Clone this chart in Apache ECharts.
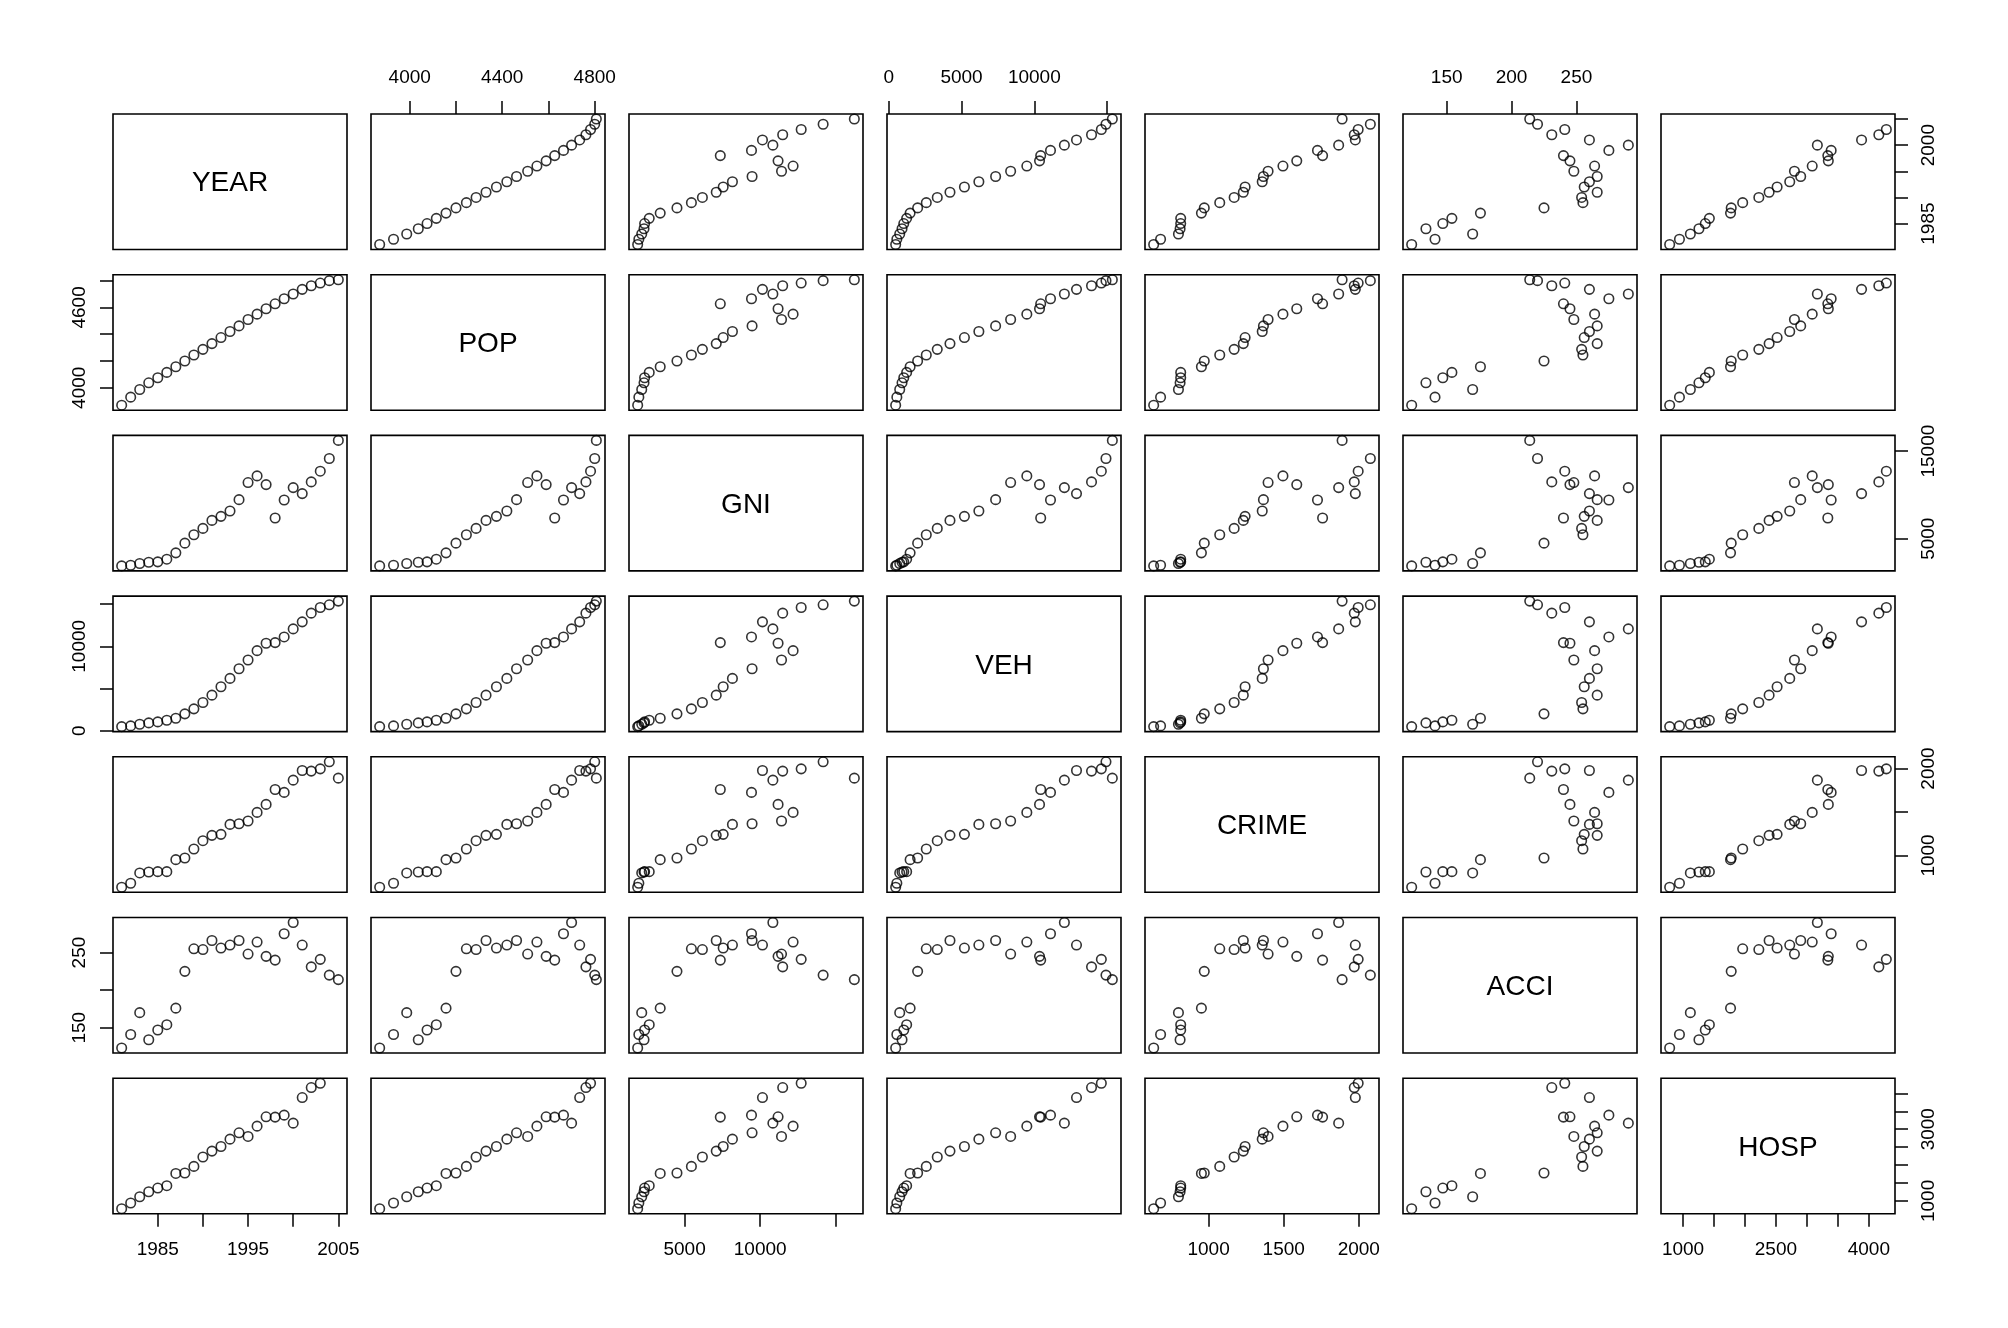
<!DOCTYPE html>
<html>
<head>
<meta charset="utf-8">
<title>pairs</title>
<script src="https://cdn.jsdelivr.net/npm/echarts@6.0.0/dist/echarts.min.js"></script>
<style>
html,body{margin:0;padding:0;background:#fff}
#chart{width:2008px;height:1328px}
</style>
</head>
<body>
<div id="chart"></div>
<script>
// variables of the pairs plot, one array per column
const varNames = ['YEAR', 'POP', 'GNI', 'VEH', 'CRIME', 'ACCI', 'HOSP']
const year = [1981, 1982, 1983, 1984, 1985, 1986, 1987, 1988, 1989, 1990, 1991, 1992, 1993,
  1994, 1995, 1996, 1997, 1998, 1999, 2000, 2001, 2002, 2003, 2004, 2005]
const pop = [3870, 3930, 3987, 4037, 4075, 4115, 4157, 4200, 4245, 4287, 4330, 4375, 4420,
  4462, 4510, 4550, 4590, 4627, 4665, 4700, 4735, 4762, 4782, 4800, 4807]
const gni = [1898, 1975, 2166, 2318, 2357, 2662, 3388, 4496, 5451, 6177, 7093, 7552, 8163,
  9462, 11410, 12174, 11181, 7361, 9424, 10837, 10149, 11486, 12709, 14160, 16223]
const veh = [476, 556, 754, 913, 1032, 1230, 1468, 1984, 2579, 3333, 4206, 5198, 6190,
  7341, 8372, 9484, 10357, 10436, 11110, 12063, 12896, 13928, 14602, 14920, 15357]
const crime = [634, 680, 799, 810, 814, 814, 952, 971, 1074, 1170, 1231, 1243, 1357,
  1365, 1396, 1495, 1587, 1759, 1725, 1866, 1977, 1970, 1996, 2077, 1889]
const acci = [123, 141, 170, 134, 147, 154, 176, 225, 255, 254, 266, 256, 260,
  266, 248, 264, 245, 240, 275, 290, 260, 231, 241, 220, 214]
const hosp = [784, 942, 1118, 1257, 1359, 1425, 1767, 1778, 1963, 2224, 2390, 2519, 2723,
  2900, 2799, 3086, 3346, 3338, 3392, 3169, 3883, 4162, 4283, null, null]
const cols = [year, pop, gni, veh, crime, acci, hosp]

// tick marks of each variable
const tickVals = {
  YEAR: [1985, 1990, 1995, 2000, 2005],
  POP: [4000, 4200, 4400, 4600, 4800],
  GNI: [5000, 10000, 15000],
  VEH: [0, 5000, 10000, 15000],
  CRIME: [1000, 1500, 2000],
  ACCI: [150, 200, 250],
  HOSP: [1000, 1500, 2000, 2500, 3000, 3500, 4000]
}
// which ticks get a label, per side
const topLabels = { POP: [4000, 4400, 4800], VEH: [0, 5000, 10000], ACCI: [150, 200, 250] }
const bottomLabels = { YEAR: [1985, 1995, 2005], GNI: [5000, 10000], CRIME: [1000, 1500, 2000], HOSP: [1000, 2500, 4000] }
const leftLabels = { POP: [4000, 4600], VEH: [0, 10000], ACCI: [150, 250] }
const rightLabels = { YEAR: [1985, 2000], GNI: [5000, 10000, 15000], CRIME: [1000, 2000], HOSP: [1000, 3000] }

const FONT = "'Liberation Sans', Arial, Helvetica, sans-serif"
const left0 = 113, top0 = 114, panelW = 234, panelH = 135.5, stepX = 258, stepY = 160.7
const n = varNames.length

// R style range: data range stretched 4% each side
function axisRange(arr) {
  let v = arr.filter(d => d != null)
  let lo = Math.min(...v), hi = Math.max(...v)
  let pad = (hi - lo) * 0.04
  return [lo - pad, hi + pad]
}
const ranges = cols.map(axisRange)

function axisCfg(k, p, position, labels, isY) {
  let name = varNames[k]
  let show = !!labels
  return {
    gridIndex: p,
    type: 'value',
    min: ranges[k][0],
    max: ranges[k][1],
    position: position,
    axisLine: { show: false },
    splitLine: { show: false },
    axisTick: {
      show: show,
      customValues: tickVals[name],
      length: 13,
      lineStyle: { color: '#000', width: 1.5 }
    },
    axisLabel: {
      show: show,
      customValues: labels || [],
      formatter: v => String(v),
      hideOverlap: false,
      showMinLabel: true,
      showMaxLabel: true,
      margin: isY ? 24 : 27,
      rotate: isY ? 90 : 0,
      color: '#000',
      fontSize: 19,
      fontFamily: FONT
    }
  }
}

let grids = [], xAxes = [], yAxes = [], series = [], graphics = []
for (let i = 0; i < n; i++) {
  for (let j = 0; j < n; j++) {
    let p = i * n + j
    let gl = left0 + stepX * j, gt = top0 + stepY * i
    grids.push({
      left: gl, top: gt, width: panelW, height: panelH,
      show: true, borderColor: '#000', borderWidth: 1.6, backgroundColor: 'transparent'
    })
    let xn = varNames[j], yn = varNames[i]
    let xPos = 'bottom', xLab = null
    if (i === 0 && j % 2 === 1) { xPos = 'top'; xLab = topLabels[xn] }
    if (i === n - 1 && j % 2 === 0) { xPos = 'bottom'; xLab = bottomLabels[xn] }
    let yPos = 'left', yLab = null
    if (j === 0 && i % 2 === 1) { yPos = 'left'; yLab = leftLabels[yn] }
    if (j === n - 1 && i % 2 === 0) { yPos = 'right'; yLab = rightLabels[yn] }
    xAxes.push(axisCfg(j, p, xPos, xLab, false))
    yAxes.push(axisCfg(i, p, yPos, yLab, true))

    if (i === j) {
      graphics.push({
        type: 'text',
        x: gl + panelW / 2,
        y: gt + panelH / 2 + 2,
        style: { text: xn, fill: '#000', font: '28px ' + FONT, textAlign: 'center', textVerticalAlign: 'middle' }
      })
      continue
    }
    let pts = []
    for (let k = 0; k < year.length; k++) {
      if (cols[j][k] == null || cols[i][k] == null) continue
      pts.push([cols[j][k], cols[i][k]])
    }
    series.push({
      type: 'scatter',
      xAxisIndex: p,
      yAxisIndex: p,
      data: pts,
      symbol: 'circle',
      symbolSize: 9.5,
      clip: false,
      itemStyle: { color: 'transparent', borderColor: '#000', borderWidth: 1.6 },
      emphasis: { disabled: true }
    })
  }
}

let chart = echarts.init(document.getElementById('chart'))
chart.setOption({
  backgroundColor: '#fff',
  animation: false,
  grid: grids,
  xAxis: xAxes,
  yAxis: yAxes,
  series: series,
  graphic: graphics
})
</script>
</body>
</html>
